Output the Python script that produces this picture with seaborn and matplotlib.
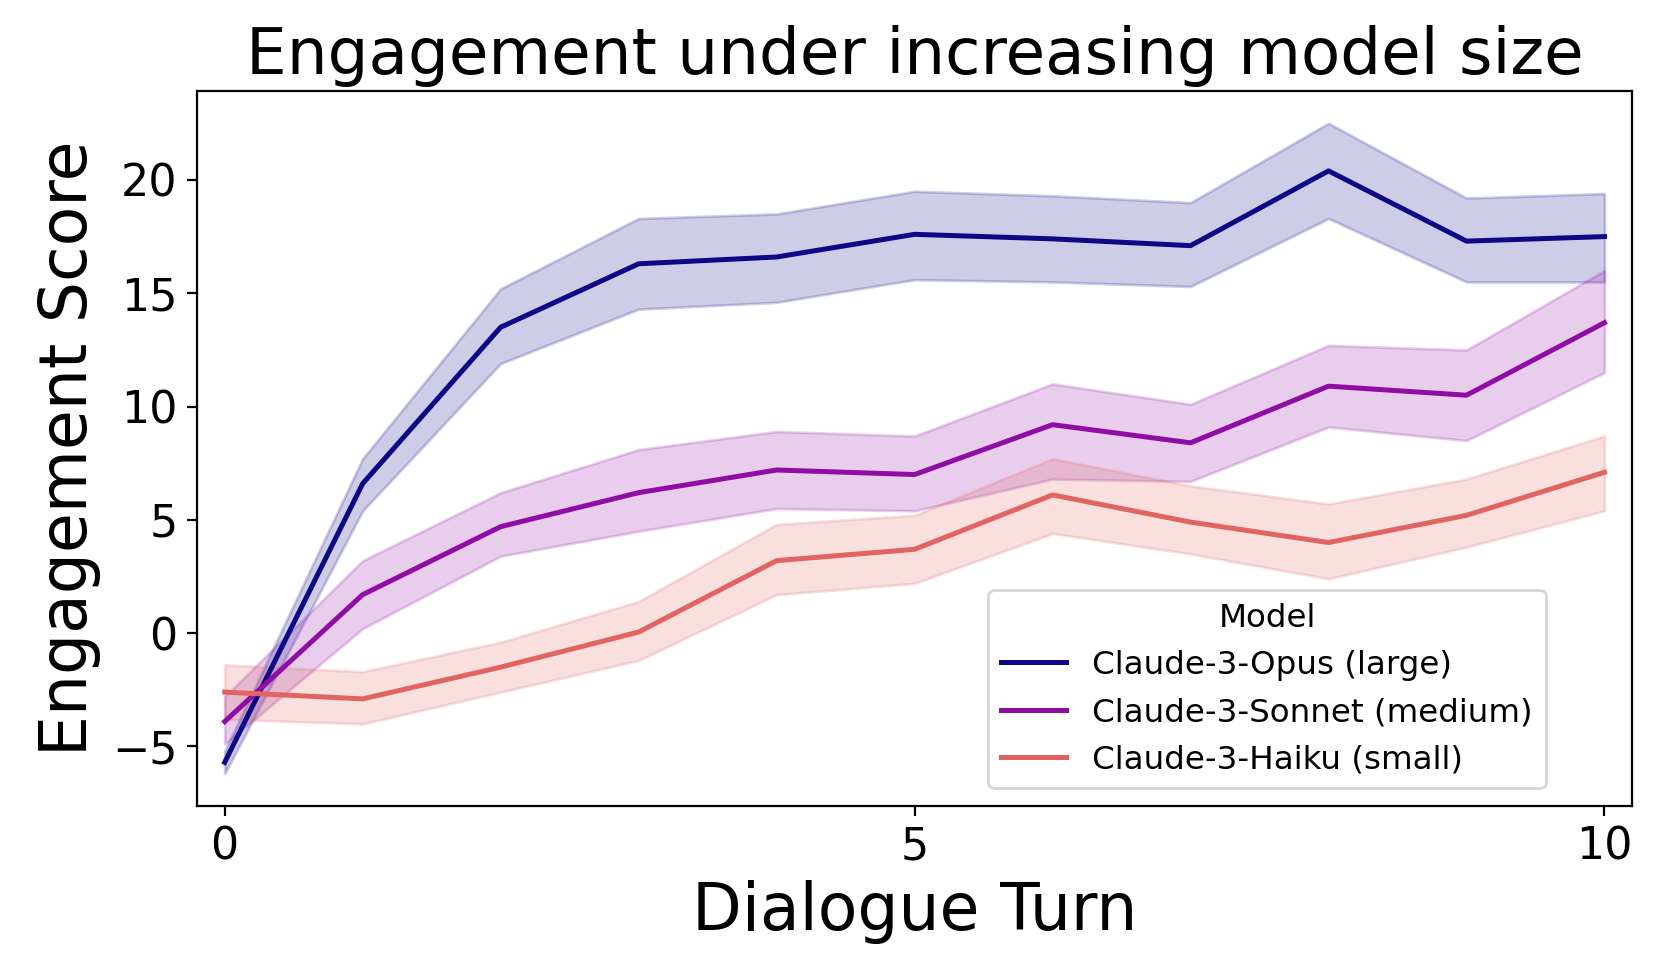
import seaborn as sns
import matplotlib
matplotlib.use('Agg')
import matplotlib.pyplot as plt
import pandas as pd

turns = list(range(11))
models = ['Claude-3-Opus (large)', 'Claude-3-Sonnet (medium)', 'Claude-3-Haiku (small)']
colors = ['#0d0887', '#8f0da4', '#e16462']

opus_mean = [-5.7, 6.6, 13.5, 16.3, 16.6, 17.6, 17.4, 17.1, 20.4, 17.3, 17.5]
opus_low = [-6.2, 5.4, 11.9, 14.3, 14.6, 15.6, 15.5, 15.3, 18.3, 15.5, 15.5]
opus_high = [-5.2, 7.7, 15.2, 18.3, 18.5, 19.5, 19.3, 19.0, 22.5, 19.2, 19.4]

sonnet_mean = [-3.9, 1.7, 4.7, 6.2, 7.2, 7.0, 9.2, 8.4, 10.9, 10.5, 13.7]
sonnet_low = [-4.9, 0.2, 3.4, 4.5, 5.5, 5.4, 6.8, 6.7, 9.1, 8.5, 11.5]
sonnet_high = [-2.8, 3.2, 6.2, 8.1, 8.9, 8.7, 11.0, 10.1, 12.7, 12.5, 16.0]

haiku_mean = [-2.6, -2.9, -1.5, 0.05, 3.2, 3.7, 6.1, 4.9, 4.0, 5.2, 7.1]
haiku_low = [-3.8, -4.0, -2.6, -1.2, 1.7, 2.2, 4.4, 3.5, 2.4, 3.8, 5.4]
haiku_high = [-1.4, -1.7, -0.4, 1.4, 4.8, 5.2, 7.7, 6.5, 5.7, 6.8, 8.7]

means = [opus_mean, sonnet_mean, haiku_mean]
lows = [opus_low, sonnet_low, haiku_low]
highs = [opus_high, sonnet_high, haiku_high]

rows = []
for m, vals, lo, hi in zip(models, means, lows, highs):
    for t, v, l, h in zip(turns, vals, lo, hi):
        rows.append({'Dialogue Turn': t, 'Engagement Score': v, 'low': l, 'high': h, 'Model': m})
df = pd.DataFrame(rows)

fig, ax = plt.subplots(figsize=(8.31, 4.88), dpi=200)
fig.subplots_adjust(left=0.1186, right=0.982, top=0.907, bottom=0.174)

sns.lineplot(data=df, x='Dialogue Turn', y='Engagement Score', hue='Model',
             hue_order=models, palette=colors, linewidth=1.8, ax=ax)
for m, c in zip(models, colors):
    d = df[df['Model'] == m]
    ax.fill_between(d['Dialogue Turn'], d['low'], d['high'], color=c, alpha=0.2)

ax.set_xlim(-0.2, 10.2)
ax.set_xticks([0, 5, 10])
ax.set_yticks([-5, 0, 5, 10, 15, 20])
ax.tick_params(labelsize=16)
ax.set_xlabel('Dialogue Turn', fontsize=23.3)
ax.set_ylabel('Engagement Score', fontsize=23.3)
ax.set_title('Engagement under increasing model size', fontsize=23.2)

sns.move_legend(ax, loc='lower right', bbox_to_anchor=(0.94, 0.025), borderaxespad=0,
                title='Model', fontsize=11.7, title_fontsize=11.7)

fig.savefig('out.png', dpi=200)
